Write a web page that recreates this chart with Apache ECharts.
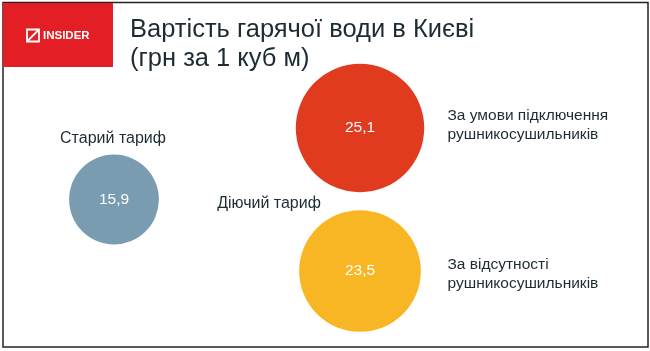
<!DOCTYPE html>
<html>
<head>
<meta charset="utf-8">
<script src="https://cdn.jsdelivr.net/npm/echarts@6/dist/echarts.min.js"></script>
<style>html,body{margin:0;padding:0;background:#fff;}#c{width:650px;height:351px;}</style>
</head>
<body>
<div id="c"></div>
<script>
// ---- data ----
const titleText = 'Вартість гарячої води в Києві\n(грн за 1 куб м)';
const columns = ['Старий тариф', 'Діючий тариф'];
const values = [15.9, 25.1, 23.5];
const colIndex = [0, 1, 1];
const rowIndex = [1, 0, 2];
const descriptions = ['', 'За умови підключення\nрушникосушильників', 'За відсутності\nрушникосушильників'];
const colors = ['#7a9cb0', '#e13b1f', '#f8b624'];

const FONT = '"Liberation Sans", Arial, Helvetica, sans-serif';
const TEXT = '#1d2b32';

const chart = echarts.init(document.getElementById('c'), null, {renderer: 'canvas'});

const bubbleData = values.map((v, i) => ({
  value: [colIndex[i], rowIndex[i], v],
  itemStyle: {color: colors[i], opacity: 1}
}));
const descOffsets = [[0, 0], [0, -3], [0, 3]];
const descData = values.map((v, i) => ({
  value: [colIndex[i], rowIndex[i]],
  name: descriptions[i],
  label: {offset: descOffsets[i]}
})).filter(d => d.name);
const headOffsets = [[-1, -61], [-91, 4]];
const headData = columns.map((c, i) => ({
  value: [i, 1],
  name: c,
  label: {offset: headOffsets[i]}
}));

chart.setOption({
  animation: false,
  backgroundColor: '#fff',
  title: {
    text: titleText,
    left: 125, top: 10,
    textStyle: {fontFamily: FONT, fontSize: 25.5, fontWeight: 'normal', color: TEXT, lineHeight: 29}
  },
  grid: {left: 114, right: 290, top: 128, bottom: 80},
  xAxis: {type: 'value', min: 0, max: 1, show: false},
  yAxis: {type: 'value', min: 0, max: 2, inverse: true, show: false},
  graphic: [
    {type: 'rect', shape: {x: 3, y: 2.5, width: 645, height: 344.5}, style: {fill: 'none', stroke: '#222', lineWidth: 1.5}, z: 10},
    {type: 'rect', shape: {x: 3, y: 3, width: 110, height: 64}, style: {fill: '#e31e25'}, z: 11},
    {type: 'rect', shape: {x: 27, y: 29.5, width: 12, height: 12}, style: {fill: 'none', stroke: '#fff', lineWidth: 1.8}, z: 12},
    {type: 'line', shape: {x1: 27.5, y1: 41, x2: 38.5, y2: 30}, style: {stroke: '#fff', lineWidth: 1.8}, z: 12},
    {type: 'text', x: 43, y: 36, style: {text: 'INSIDER', fill: '#fff', font: 'bold 11.5px ' + FONT, textVerticalAlign: 'middle'}, z: 12}
  ],
  series: [
    {
      type: 'scatter', silent: true, z: 2,
      data: bubbleData,
      symbolSize: d => d[2] * 4.2 + 23,
      itemStyle: {opacity: 1},
      label: {
        show: true, position: 'inside',
        formatter: p => p.value[2].toFixed(1).replace('.', ','),
        color: '#fff', fontFamily: FONT, fontSize: 15.5
      }
    },
    {
      type: 'scatter', silent: true, z: 3,
      data: descData,
      symbolSize: 1, itemStyle: {color: 'rgba(0,0,0,0)', opacity: 1},
      label: {
        show: true, position: 'right', distance: 87,
        formatter: p => p.name,
        color: TEXT, fontFamily: FONT, fontSize: 15.5, lineHeight: 19, align: 'left'
      }
    },
    {
      type: 'scatter', silent: true, z: 3,
      data: headData,
      symbolSize: 1, itemStyle: {color: 'rgba(0,0,0,0)', opacity: 1},
      label: {
        show: true, position: 'inside',
        formatter: p => p.name,
        color: TEXT, fontFamily: FONT, fontSize: 16
      }
    }
  ]
});
</script>
</body>
</html>
